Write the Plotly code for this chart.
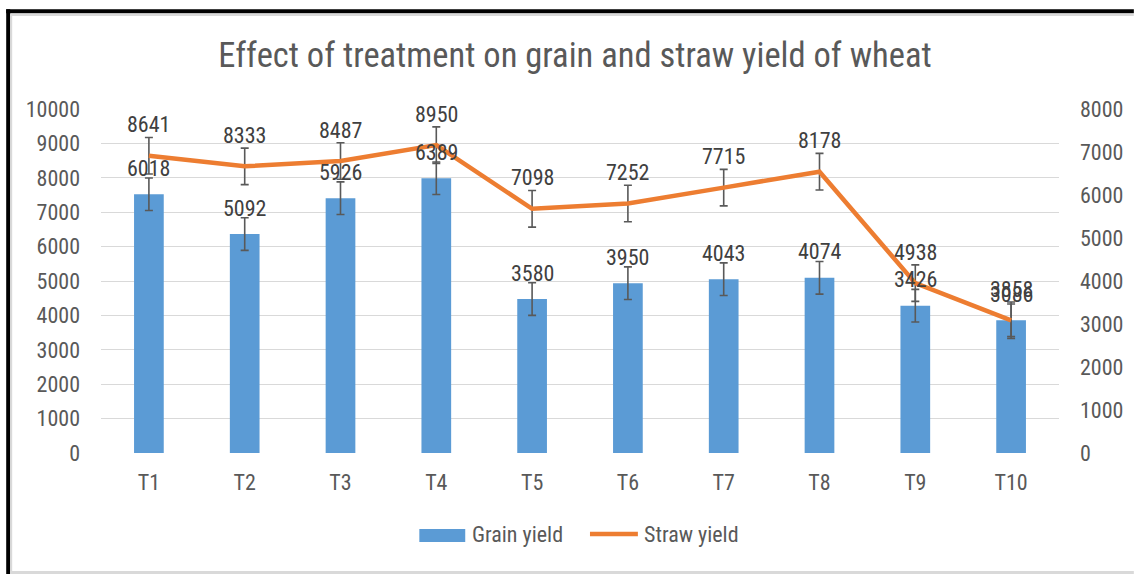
import plotly.graph_objects as go

categories = ["T1", "T2", "T3", "T4", "T5", "T6", "T7", "T8", "T9", "T10"]
grain_yield = [6018, 5092, 5926, 6389, 3580, 3950, 4043, 4074, 3426, 3086]
straw_yield = [8641, 8333, 8487, 8950, 7098, 7252, 7715, 8178, 4938, 3858]
grain_se = [379, 379, 379, 379, 379, 379, 379, 379, 379, 379]
straw_se = [531, 531, 531, 531, 531, 531, 531, 531, 531, 531]
title_text = "Effect of treatment on grain and straw yield of wheat"

W, H = 1135, 574
L, R, T, B = 101, 74, 109, 121
FONT = "Liberation Sans Narrow, Roboto Condensed, Roboto, sans-serif"
AXC = "#595959"
LBC = "#404040"
BLUE = "#5B9BD5"
ORANGE = "#ED7D31"
GRID = "#D9D9D9"


def px(x):
    return (x - L) / (W - L - R)


def py(y):
    return (H - B - y) / (H - T - B)


fig = go.Figure()
fig.add_trace(go.Bar(
    x=categories, y=grain_yield, yaxis="y", name="Grain yield",
    marker=dict(color=BLUE, line=dict(width=0)), width=0.31,
    error_y=dict(type="data", array=grain_se, color=AXC, thickness=1.6, width=4),
    showlegend=False,
))
fig.add_trace(go.Scatter(
    x=categories, y=straw_yield, yaxis="y2", name="Straw yield", mode="lines",
    line=dict(color=ORANGE, width=4.5),
    error_y=dict(type="data", array=straw_se, color=AXC, thickness=1.6, width=4),
    showlegend=False,
))

annotations = []
for c, v in zip(categories, grain_yield):
    annotations.append(dict(x=c, y=v, xref="x", yref="y", text=str(v), showarrow=False,
                            yshift=26, font=dict(family=FONT, size=22, color=LBC)))
for c, v in zip(categories, straw_yield):
    annotations.append(dict(x=c, y=v, xref="x", yref="y2", text=str(v), showarrow=False,
                            yshift=31, font=dict(family=FONT, size=22, color=LBC)))

# custom legend
annotations.append(dict(x=px(471), y=py(534), xref="paper", yref="paper", text="Grain yield",
                        showarrow=False, xanchor="left", yanchor="middle",
                        font=dict(family=FONT, size=22, color=AXC)))
annotations.append(dict(x=px(643), y=py(534), xref="paper", yref="paper", text="Straw yield",
                        showarrow=False, xanchor="left", yanchor="middle",
                        font=dict(family=FONT, size=22, color=AXC)))

shapes = [
    # legend swatches
    dict(type="rect", xref="paper", yref="paper", x0=px(420), x1=px(466), y0=py(542), y1=py(529),
         fillcolor=BLUE, line=dict(width=0)),
    dict(type="line", xref="paper", yref="paper", x0=px(591), x1=px(639), y0=py(534), y1=py(534),
         line=dict(color=ORANGE, width=4.5)),
    # outer frame
    dict(type="rect", xref="paper", yref="paper", x0=px(6), x1=px(1136), y0=py(13.3), y1=py(9.3),
         fillcolor="black", line=dict(width=0)),
    dict(type="rect", xref="paper", yref="paper", x0=px(6), x1=px(10), y0=py(575), y1=py(9.3),
         fillcolor="black", line=dict(width=0)),
    dict(type="line", xref="paper", yref="paper", x0=px(10), x1=px(1136), y0=py(15), y1=py(15),
         line=dict(color=GRID, width=2)),
    dict(type="line", xref="paper", yref="paper", x0=px(11), x1=px(11), y0=py(15), y1=py(574),
         line=dict(color=GRID, width=2)),
    dict(type="line", xref="paper", yref="paper", x0=px(10), x1=px(1136), y0=py(572.5), y1=py(572.5),
         line=dict(color=GRID, width=3)),
]

fig.update_layout(
    width=W, height=H,
    margin=dict(l=L, r=R, t=T, b=B, pad=0),
    paper_bgcolor="white", plot_bgcolor="white",
    font=dict(family=FONT, size=22, color=AXC),
    title=dict(text=title_text, x=575 / W, xanchor="center", y=1 - 55 / H, yanchor="middle",
               yref="container", font=dict(family=FONT, size=34.5, color=AXC)),
    showlegend=False,
    bargap=0.69,
    xaxis=dict(type="category", range=[-0.5, 9.5], showgrid=False, showline=False, zeroline=False,
               ticks="", ticklabelstandoff=14, tickfont=dict(size=22, color=AXC)),
    yaxis=dict(range=[0, 8000], dtick=1000, tickformat="d", side="right", showgrid=False,
               zeroline=False, showline=False, ticks="", ticklabelstandoff=20,
               tickfont=dict(size=22, color=AXC)),
    yaxis2=dict(range=[0, 10000], dtick=1000, tickformat="d", side="left", overlaying="y",
                showgrid=True, gridcolor=GRID, gridwidth=1.3, zeroline=False, showline=False,
                ticks="", ticklabelstandoff=20, tickfont=dict(size=22, color=AXC)),
    annotations=annotations,
    shapes=shapes,
)

fig.write_html("out.html", config={"displayModeBar": False},
               post_script="document.body.style.margin='0';")
